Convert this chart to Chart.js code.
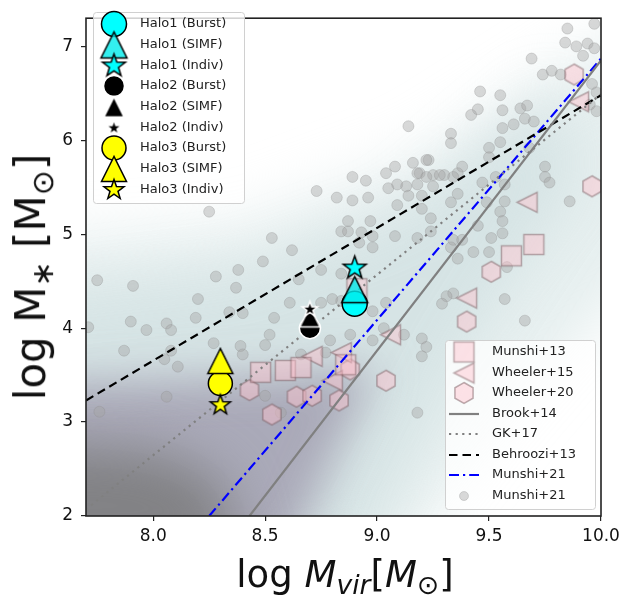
<!DOCTYPE html>
<html><head><meta charset="utf-8">
<script src="https://cdn.jsdelivr.net/npm/chart.js@4/dist/chart.umd.min.js"></script>
<style>
html,body{margin:0;padding:0;background:#fff;}
#wrap{position:relative;width:628px;height:599px;overflow:hidden;}
#c{position:absolute;left:0;top:0;}
.ttl{position:absolute;font-family:"DejaVu Sans";color:#111;white-space:nowrap;line-height:1;}
.ttl sub{font-size:0.72em;vertical-align:-0.25em;}
#xt{left:345px;top:577px;font-size:37px;transform:translate(-50%,-50%);}
#yt{left:34px;top:277px;font-size:42px;transform:translate(-50%,-50%) rotate(-90deg);}
</style></head><body>
<div id="wrap">
<canvas id="c" width="628" height="599"></canvas>
<div id="xt" class="ttl">log <i>M</i><sub><i>vir</i></sub>[<i>M</i><sub>⊙</sub>]</div>
<div id="yt" class="ttl">log M<sub>∗</sub> [M<sub>⊙</sub>]</div>
</div>
<script>
// ---------------- data ----------------
const X_TICKS = [8.0, 8.5, 9.0, 9.5, 10.0];
const Y_TICKS = [2, 3, 4, 5, 6, 7];

// Munshi+21 simulated galaxies (grey circles)
const grayX = [9.85,9.97,9.84,9.89,9.94,9.92,9.97,9.69,9.74,9.78,9.82,9.46,9.55,9.45,9.42,9.56,9.64,9.67,9.66,9.70,9.56,9.61,9.33,9.33,9.50,9.55,9.68,9.23,9.38,9.50,9.19,9.25,9.30,9.36,9.75,9.75,9.96,9.98,9.95,9.98,
9.14,9.22,9.16,9.08,9.04,9.18,8.89,8.95,9.05,9.09,9.13,9.18,8.73,8.82,8.89,8.96,9.14,9.09,9.20,8.87,8.97,8.84,8.87,8.93,8.98,9.08,9.18,8.53,8.62,8.92,8.98,8.49,8.84,
9.22,9.28,9.34,9.25,9.20,9.33,9.36,9.47,9.53,9.57,9.77,9.49,9.57,9.55,9.56,9.24,9.45,9.24,9.51,9.56,9.34,9.38,9.33,9.43,9.50,9.36,9.58,9.86,9.34,9.31,9.29,9.57,9.66,9.20,
8.25,7.75,7.91,8.28,8.38,8.37,8.20,7.90,7.97,8.06,8.08,8.19,8.34,8.40,7.71,7.87,8.05,8.08,8.11,8.27,8.39,8.40,8.06,7.76,
8.65,8.61,8.54,8.52,8.50,8.75,8.80,8.84,8.79,8.66,8.77,8.88,9.04,8.98,9.03,8.98,9.12,9.22,9.20,9.18,8.50,8.75,8.57];
const grayY = [7.19,7.24,7.04,7.00,7.03,6.90,6.98,6.87,6.70,6.74,6.70,6.52,6.48,6.33,6.27,6.32,6.34,6.37,6.23,6.20,6.13,6.17,6.07,5.97,5.92,5.98,5.92,5.79,5.72,5.82,5.65,5.63,5.63,5.65,5.72,5.61,6.60,6.51,6.38,6.31,
6.15,5.79,5.76,5.72,5.65,5.65,5.61,5.57,5.49,5.53,5.51,5.53,5.46,5.39,5.36,5.39,5.41,5.31,5.27,5.14,5.14,5.03,5.03,5.02,4.98,4.98,4.96,4.96,4.83,4.91,4.86,4.71,4.58,
5.61,5.63,5.61,5.51,5.41,5.34,5.43,5.55,5.61,5.53,5.55,5.34,5.35,5.24,5.14,5.17,5.09,5.03,4.96,5.01,4.94,4.94,4.86,4.81,4.81,4.74,4.65,5.35,4.37,4.34,4.26,4.31,4.08,3.89,
5.24,4.51,4.45,4.55,4.62,4.43,4.31,4.07,3.98,4.05,3.98,4.11,4.17,4.16,4.01,3.76,3.67,3.76,3.59,3.84,3.81,3.72,3.27,3.11,
4.52,4.27,4.11,3.93,3.82,4.27,4.31,4.29,3.87,3.72,3.74,3.93,4.27,4.18,4.00,3.87,3.93,3.80,3.70,3.10,3.28,4.62,3.10];

// observational samples
const munshi13X = [9.60, 9.70, 8.48, 8.59, 8.66, 8.86, 8.91];
const munshi13Y = [4.77, 4.89, 3.53, 3.55, 3.58, 3.61, 4.42];
const wheeler15X = [9.67, 9.40, 9.06, 8.71, 8.84, 8.80, 9.90];
const wheeler15Y = [5.34, 4.32, 3.93, 3.70, 3.74, 3.44, 6.41];
const wheeler20X = [9.96, 9.88, 9.51, 9.40, 9.04, 8.88, 8.43, 8.64, 8.71, 8.83, 8.53];
const wheeler20Y = [5.51, 6.70, 4.60, 4.07, 3.44, 3.56, 3.34, 3.27, 3.28, 3.23, 3.08];

// relations (end points)
const brookX = [8.43, 10.0], brookY = [2.0, 6.85];
const gkX = [7.7, 10.0], gkY = [2.07, 6.49];
const behrooziX = [7.7, 10.0], behrooziY = [3.23, 6.48];
const munshi21X = [8.25, 10.0], munshi21Y = [2.0, 6.87];

// halos
const haloX = [8.9, 8.7, 8.3];
const burstY = [4.26, 4.00, 3.41];
const simfY = [4.41, 4.12, 3.65];
const indivY = [4.64, 4.20, 3.18];

// ---------------- marker images ----------------
function mk(size, draw){ const c=document.createElement('canvas'); c.width=c.height=size; const g=c.getContext('2d'); draw(g,size/2,size/2); return c; }
function finish(g, fill, stroke, lw){ g.closePath(); g.fillStyle=fill; g.fill(); if(lw>0){g.lineWidth=lw; g.strokeStyle=stroke; g.lineJoin='miter'; g.stroke();} }
function starImg(R, fill, stroke, lw){ return mk(Math.ceil(2*R+3*lw+4),(g,cx,cy)=>{ g.beginPath(); for(let i=0;i<10;i++){const r=i%2?R*0.4:R; const a=-Math.PI/2+i*Math.PI/5; g.lineTo(cx+r*Math.cos(a),cy+r*Math.sin(a));} finish(g,fill,stroke,lw); }); }
function triUpImg(h, fill, stroke, lw){ return mk(Math.ceil(2*h+3*lw+4),(g,cx,cy)=>{ g.beginPath(); g.moveTo(cx,cy-h); g.lineTo(cx-h,cy+h); g.lineTo(cx+h,cy+h); finish(g,fill,stroke,lw); }); }
function triLeftImg(h, fill, stroke, lw){ return mk(Math.ceil(2*h+3*lw+4),(g,cx,cy)=>{ g.beginPath(); g.moveTo(cx-h,cy); g.lineTo(cx+h,cy-h); g.lineTo(cx+h,cy+h); finish(g,fill,stroke,lw); }); }
function hexImg(R, fill, stroke, lw){ return mk(Math.ceil(2*R+3*lw+4),(g,cx,cy)=>{ g.beginPath(); for(let i=0;i<6;i++){const a=-Math.PI/2+i*Math.PI/3; g.lineTo(cx+R*Math.cos(a),cy+R*Math.sin(a));} finish(g,fill,stroke,lw); }); }
function sqImg(h, fill, stroke, lw){ return mk(Math.ceil(2*h+3*lw+4),(g,cx,cy)=>{ g.beginPath(); g.rect(cx-h,cy-h,2*h,2*h); finish(g,fill,stroke,lw); }); }

const PINK='rgba(255,192,203,0.45)', PINKE='rgba(110,80,85,0.45)';
const imgSq = sqImg(10, PINK, PINKE, 1.5);
const imgTriL = triLeftImg(10, PINK, PINKE, 1.5);
const imgHex = hexImg(10.5, PINK, PINKE, 1.5);

const haloStyle = [
  {fill:'#00ffff', tri:'rgba(0,235,235,0.8)', edge:'#000', r:12.5, th:13, sR:12},
  {fill:'#000000', tri:'#000000', edge:'#fff', r:10.5, th:10, sR:8},
  {fill:'#ffff00', tri:'#ffff00', edge:'#000', r:12, th:12.5, sR:10.5}
];
const triImgs = haloStyle.map(s=>triUpImg(s.th, s.tri, s.edge, 1.5));
const starImgs = haloStyle.map(s=>starImg(s.sR, s.fill, s.edge, 1.5));

const pts = (xs, ys) => xs.map((x,i)=>({x, y:ys[i]}));

const GRAYF='rgba(165,165,165,0.42)', GRAYE='rgba(140,140,140,0.3)';
const datasets = [];
datasets.push({type:'scatter', label:'Munshi+21 pts', data:pts(grayX,grayY), order:40,
  pointStyle:'circle', pointRadius:5.5, backgroundColor:GRAYF, borderColor:GRAYE, borderWidth:1});
datasets.push({type:'scatter', label:'Munshi+13', data:pts(munshi13X,munshi13Y), order:30, pointStyle:imgSq});
datasets.push({type:'scatter', label:'Wheeler+15', data:pts(wheeler15X,wheeler15Y), order:30, pointStyle:imgTriL});
datasets.push({type:'scatter', label:'Wheeler+20', data:pts(wheeler20X,wheeler20Y), order:30, pointStyle:imgHex});
const LW = 2.2;
const DASH = {solid:[], dot:[2.2,4.4], dash:[8.5,5], dashdot:[10,4,2.2,4]};
const lineDs = (label, xs, ys, color, dash) => ({type:'line', label, data:pts(xs,ys), order:20, borderColor:color, borderWidth:LW, borderDash:dash, borderCapStyle:'butt', pointRadius:0, fill:false, tension:0});
datasets.push(lineDs('Brook+14', brookX, brookY, '#808080', DASH.solid));
datasets.push(lineDs('GK+17', gkX, gkY, '#808080', DASH.dot));
datasets.push(lineDs('Behroozi+13', behrooziX, behrooziY, '#000000', DASH.dash));
datasets.push(lineDs('Munshi+21', munshi21X, munshi21Y, '#0000ff', DASH.dashdot));
haloX.forEach((hx,i)=>{
  const s = haloStyle[i];
  datasets.push({type:'scatter', label:'Halo'+(i+1)+' (Burst)', data:[{x:hx,y:burstY[i]}], order:13,
    pointStyle:'circle', pointRadius:s.r, backgroundColor:s.fill, borderColor:s.edge, borderWidth:1.5});
  datasets.push({type:'scatter', label:'Halo'+(i+1)+' (SIMF)', data:[{x:hx,y:simfY[i]}], order:12, pointStyle:triImgs[i]});
  datasets.push({type:'scatter', label:'Halo'+(i+1)+' (Indiv)', data:[{x:hx,y:indivY[i]}], order:11, pointStyle:starImgs[i]});
});

// ---------------- plugins ----------------
const shade = {
  id:'shade',
  beforeDatasetsDraw(chart){
    const {ctx, chartArea:a, scales:{x,y}} = chart;
    const P = (vx,vy)=>[x.getPixelForValue(vx), y.getPixelForValue(vy)];
    const poly = (list, color, blur)=>{
      ctx.save(); ctx.filter='blur('+blur+'px)'; ctx.fillStyle=color; ctx.beginPath();
      list.forEach(([vx,vy],k)=>{const [px,py]=P(vx,vy); k?ctx.lineTo(px,py):ctx.moveTo(px,py);});
      ctx.closePath(); ctx.fill(); ctx.restore();
    };
    ctx.save();
    ctx.beginPath(); ctx.rect(a.left,a.top,a.right-a.left,a.bottom-a.top); ctx.clip();
    poly([[7.3,2.6],[7.3,4.9],[8.4,5.1],[9.2,5.8],[10.4,7.6],[10.4,5.2],[9.6,3.0],[9.1,1.5],[7.3,1.5]], 'rgba(222,234,234,0.75)', 30);
    poly([[7.3,3.0],[7.3,4.3],[8.4,4.6],[9.1,5.2],[9.8,6.6],[9.9,5.6],[9.4,3.8],[8.9,1.5],[7.3,1.5]], 'rgba(200,218,220,0.55)', 28);
    poly([[7.3,1.5],[7.3,3.4],[8.0,3.45],[8.6,3.5],[9.0,3.6],[8.8,2.6],[8.6,1.5]], 'rgba(165,163,180,0.9)', 22);
    poly([[7.3,1.5],[7.3,2.8],[8.0,2.7],[8.3,2.4],[8.4,1.5]], 'rgba(128,128,130,0.95)', 26);
    ctx.restore();
  }
};

const frameAndLegend = {
  id:'frameAndLegend',
  afterDatasetsDraw(chart){
    const {ctx, chartArea:a} = chart;
    ctx.save();
    ctx.strokeStyle='#222'; ctx.lineWidth=1.6;
    ctx.strokeRect(a.left, a.top, a.right-a.left, a.bottom-a.top);
    ctx.restore();
  },
  afterDraw(chart){
    const ctx = chart.ctx;
    const box = (x0,y0,w,h)=>{ ctx.save(); ctx.beginPath(); ctx.roundRect(x0+0.5,y0+0.5,w,h,3); ctx.fillStyle='rgba(255,255,255,0.8)'; ctx.fill(); ctx.strokeStyle='#d0d0d0'; ctx.lineWidth=1; ctx.stroke(); ctx.restore(); };
    const img = (im,x,y)=>ctx.drawImage(im, x-im.width/2, y-im.height/2);
    const circ = (x,y,r,fill,edge,lw)=>{ ctx.save(); ctx.beginPath(); ctx.arc(x,y,r,0,2*Math.PI); ctx.fillStyle=fill; ctx.fill(); if(lw){ctx.lineWidth=lw; ctx.strokeStyle=edge; ctx.stroke();} ctx.restore(); };
    const text = (t,x,y)=>{ ctx.save(); ctx.font='13px "DejaVu Sans"'; ctx.fillStyle='#222'; ctx.textBaseline='middle'; ctx.fillText(t,x,y); ctx.restore(); };

    // legend 1 (halos)
    box(93,12,151,191);
    const rows1 = [24,45,66,86,107,128,148,169,190];
    let k=0;
    haloStyle.forEach((s,i)=>{
      circ(114, rows1[k], s.r, s.fill, s.edge, 1.5); text('Halo'+(i+1)+' (Burst)', 140, rows1[k]); k++;
      img(triImgs[i], 114, rows1[k]); text('Halo'+(i+1)+' (SIMF)', 140, rows1[k]); k++;
      img(starImgs[i], 114, rows1[k]); text('Halo'+(i+1)+' (Indiv)', 140, rows1[k]); k++;
    });

    // legend 2 (literature)
    box(445,340,150,169);
    const rows2 = [352,373,393,414,434,455,475,496];
    img(imgSq,464,rows2[0]); text('Munshi+13',492,rows2[0]);
    img(imgTriL,464,rows2[1]); text('Wheeler+15',492,rows2[1]);
    img(imgHex,464,rows2[2]); text('Wheeler+20',492,rows2[2]);
    const ln=(y,color,dash,lbl)=>{ ctx.save(); ctx.strokeStyle=color; ctx.lineWidth=LW; ctx.setLineDash(dash); ctx.beginPath(); ctx.moveTo(449,y); ctx.lineTo(479,y); ctx.stroke(); ctx.restore(); text(lbl,492,y); };
    ln(rows2[3],'#808080',DASH.solid,'Brook+14');
    ln(rows2[4],'#808080',DASH.dot,'GK+17');
    ln(rows2[5],'#000',DASH.dash,'Behroozi+13');
    ln(rows2[6],'#0000ff',DASH.dashdot,'Munshi+21');
    circ(464,rows2[7],4.5,GRAYF,GRAYE,1); text('Munshi+21',492,rows2[7]);
  }
};

const tickFont = {family:'DejaVu Sans', size:17};
new Chart(document.getElementById('c'), {
  data:{datasets},
  options:{
    responsive:false, animation:false, devicePixelRatio:1,
    layout:{padding:{top:4, right:27, left:0, bottom:0}},
    plugins:{legend:{display:false}, tooltip:{enabled:false}},
    scales:{
      x:{type:'linear', min:7.7, max:10.0,
        afterBuildTicks:s=>{s.ticks = X_TICKS.map(v=>({value:v}));},
        afterFit:s=>{s.height=83;},
        ticks:{font:tickFont, color:'#111', padding:5, maxRotation:0, autoSkip:false, callback:v=>Number(v).toFixed(1)},
        grid:{display:true, drawOnChartArea:false, drawTicks:true, tickLength:5, color:'#222', lineWidth:1.2},
        border:{display:false}},
      y:{type:'linear', min:2, max:7.3,
        afterBuildTicks:s=>{s.ticks = Y_TICKS.map(v=>({value:v}));},
        afterFit:s=>{s.width=86;},
        ticks:{font:tickFont, color:'#111', padding:8, autoSkip:false, callback:v=>String(v)},
        grid:{display:true, drawOnChartArea:false, drawTicks:true, tickLength:5, color:'#222', lineWidth:1.2},
        border:{display:false}}
    }
  },
  plugins:[shade, frameAndLegend]
});
</script>
</body></html>
